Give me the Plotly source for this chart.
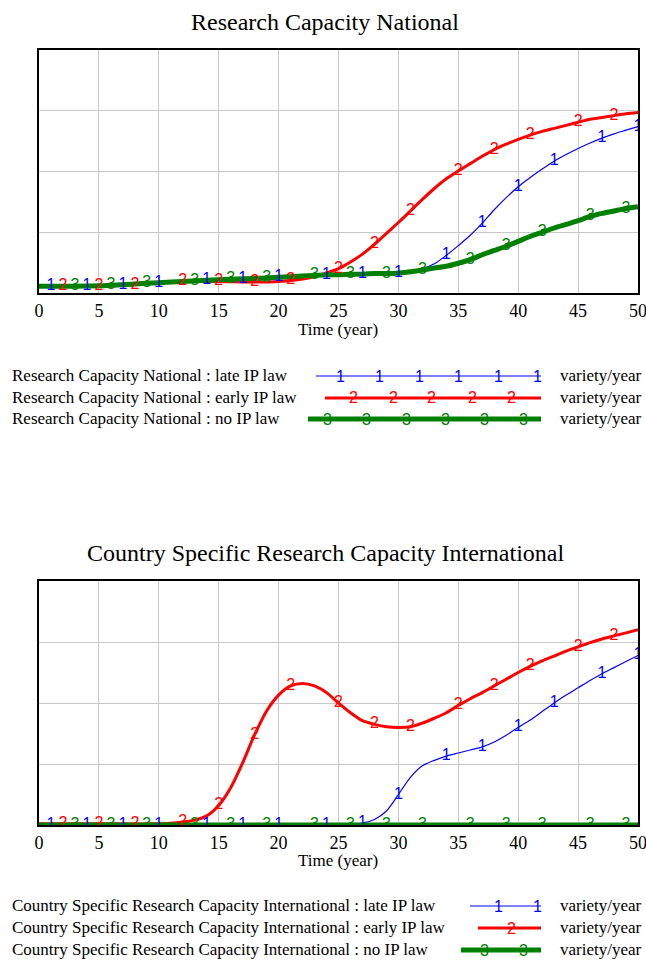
import numpy as np
import plotly.graph_objects as go

W, H = 646, 961

# ---------------- data: top chart (Research Capacity National) ----------------
TIME_TOP = [0, 5, 8, 10, 12, 15, 18, 20, 22, 23, 24, 25, 26, 27, 28, 29, 30, 31, 32, 33, 34,
            35, 36, 37, 38, 39, 40, 41, 42, 43, 44, 45, 46, 47, 48, 49, 50]
TOP_LATE = [0.11, 0.12, 0.15, 0.17, 0.19, 0.22, 0.24, 0.26, 0.28, 0.29, 0.30, 0.30, 0.31, 0.31,
            0.32, 0.32, 0.33, 0.36, 0.40, 0.48, 0.62, 0.78, 0.95, 1.15, 1.37, 1.57, 1.75, 1.90,
            2.04, 2.17, 2.28, 2.38, 2.47, 2.55, 2.62, 2.68, 2.74]
TOP_EARLY = [0.11, 0.11, 0.14, 0.17, 0.19, 0.19, 0.18, 0.19, 0.23, 0.27, 0.33, 0.40, 0.51,
             0.64, 0.80, 0.98, 1.16, 1.35, 1.54, 1.72, 1.88, 2.01, 2.13, 2.25, 2.36, 2.45,
             2.53, 2.60, 2.66, 2.71, 2.76, 2.81, 2.86, 2.89, 2.92, 2.95, 2.97]
TOP_NONE = [0.11, 0.12, 0.15, 0.17, 0.19, 0.22, 0.24, 0.26, 0.28, 0.29, 0.30, 0.30, 0.31, 0.31,
            0.32, 0.32, 0.33, 0.35, 0.38, 0.41, 0.44, 0.49, 0.55, 0.63, 0.70, 0.77, 0.85,
            0.93, 1.00, 1.07, 1.13, 1.19, 1.26, 1.31, 1.35, 1.39, 1.42]

# ---------------- data: bottom chart (Country Specific Research Capacity International) ----
TIME_BOT = [0, 5, 10, 11, 12, 13, 14, 15, 16, 17, 18, 19, 20, 21, 22, 23, 24, 25, 26, 27, 28,
            29, 30, 31, 32, 33, 34, 35, 36, 37, 38, 39, 40, 41, 42, 43, 44, 45, 46, 47, 48, 49, 50]
BOT_LATE = [0.0, 0.0, 0.0, 0.0, 0.0, 0.0, 0.0, 0.0, 0.0, 0.0, 0.0, 0.0, 0.0, 0.0, 0.0, 0.0,
            0.0, 0.0, 0.01, 0.03, 0.09, 0.23, 0.50, 0.78, 0.97, 1.06, 1.13, 1.18, 1.23, 1.28,
            1.36, 1.47, 1.60, 1.72, 1.86, 2.00, 2.13, 2.25, 2.37, 2.48, 2.58, 2.68, 2.78]
BOT_EARLY = [0.02, 0.02, 0.02, 0.03, 0.05, 0.08, 0.15, 0.32, 0.61, 1.02, 1.48, 1.87, 2.13,
             2.28, 2.32, 2.28, 2.17, 2.00, 1.84, 1.71, 1.65, 1.61, 1.60, 1.61, 1.67, 1.75,
             1.84, 1.96, 2.07, 2.17, 2.28, 2.39, 2.50, 2.60, 2.69, 2.77, 2.85, 2.92, 2.99,
             3.05, 3.10, 3.15, 3.20]
BOT_NONE = [0.0] * len(TIME_BOT)

# marker label times (Vensim-style numbered markers)
MARK_LATE = [1, 4, 7, 10, 14, 17, 20, 24, 27, 30, 34, 37, 40, 43, 47, 50]
MARK_EARLY = [2, 5, 8, 12, 15, 18, 21, 25, 28, 31, 35, 38, 41, 45, 48]
MARK_NONE = [3, 6, 9, 13, 16, 19, 23, 26, 29, 32, 36, 39, 42, 46, 49]

X_TICKS = [0, 5, 10, 15, 20, 25, 30, 35, 40, 45, 50]
TITLES = ["Research Capacity National", "Country Specific Research Capacity International"]
SCEN = ["late IP law", "early IP law", "no IP law"]
UNIT = "variety/year"

BLUE, RED, GREEN = "#0000ff", "#ff0000", "#008000"
SERIF = "Liberation Serif"
SANS = "Liberation Sans"


def px(x):
    return x / W


def py(y):
    return 1 - y / H


fig = go.Figure()

charts = [
    (TIME_TOP, [TOP_LATE, TOP_EARLY, TOP_NONE], "x", "y"),
    (TIME_BOT, [BOT_LATE, BOT_EARLY, BOT_NONE], "x2", "y2"),
]
styles = [(BLUE, 1.2, "1", MARK_LATE), (RED, 3, "2", MARK_EARLY), (GREEN, 5, "3", MARK_NONE)]

for t, series, xa, ya in charts:
    for vals, (col, wd, lab, marks) in zip(series, styles):
        fig.add_trace(go.Scatter(x=t, y=vals, mode="lines", xaxis=xa, yaxis=ya,
                                 line=dict(color=col, width=wd, shape="spline", smoothing=0.8),
                                 showlegend=False, hoverinfo="skip", cliponaxis=False))
    for vals, (col, wd, lab, marks) in zip(series, styles):
        my = np.interp(marks, t, vals)
        fig.add_trace(go.Scatter(x=marks, y=my, mode="text", text=[lab] * len(marks),
                                 textposition="middle center", xaxis=xa, yaxis=ya,
                                 textfont=dict(family=SANS, size=16, color=col),
                                 showlegend=False, hoverinfo="skip"))

# plot boxes (pixels)
boxes = [(50, 293), (581, 825)]
xdom = [px(39), px(638)]

axis_common = dict(showgrid=True, gridcolor="#c8c8c8", gridwidth=1, zeroline=False,
                   showline=True, linecolor="black", linewidth=2, mirror=True, ticks="",
                   automargin=False)
lay = {}
for i, (top, bot) in enumerate(boxes):
    sx = "" if i == 0 else "2"
    lay["xaxis" + sx] = dict(axis_common, domain=xdom, range=[0, 50], tickvals=X_TICKS,
                             ticktext=[str(v) for v in X_TICKS], ticklabeloverflow="allow",
                             tickfont=dict(family=SERIF, size=18, color="black"),
                             anchor="y" + sx)
    lay["yaxis" + sx] = dict(axis_common, domain=[py(bot), py(top)], range=[0, 4], dtick=1,
                             showticklabels=False, anchor="x" + sx)

annotations = []
shapes = []
# titles and axis titles
for i, (title, ty, axy) in enumerate(zip(TITLES, [22, 553], [330, 860])):
    annotations.append(dict(x=px(325), y=py(ty), xref="paper", yref="paper", text=title,
                            showarrow=False, font=dict(family=SERIF, size=24, color="black"),
                            xanchor="center", yanchor="middle"))
    annotations.append(dict(x=px(338), y=py(axy), xref="paper", yref="paper", text="Time (year)",
                            showarrow=False, font=dict(family=SERIF, size=17, color="black"),
                            xanchor="center", yanchor="middle"))

# legends
legend_rows = [
    # (y, line_x0, marker x positions) per scenario
    [(375, 316, [340, 379, 419, 458, 498, 537]),
     (397, 325, [353, 393, 432, 472, 511]),
     (418, 308, [327, 366, 406, 445, 484, 523])],
    [(905, 470, [498, 537]),
     (927, 478, [511]),
     (949, 461, [484, 523])],
]
for i, rows in enumerate(legend_rows):
    for (ly, lx0, mxs), scen, (col, wd, lab, _) in zip(rows, SCEN, styles):
        annotations.append(dict(x=px(10), y=py(ly), xref="paper", yref="paper",
                                text=f"{TITLES[i]} : {scen}", showarrow=False,
                                font=dict(family=SERIF, size=17, color="black"),
                                xanchor="left", yanchor="middle"))
        annotations.append(dict(x=px(558), y=py(ly), xref="paper", yref="paper",
                                text=UNIT, showarrow=False,
                                font=dict(family=SERIF, size=17, color="black"),
                                xanchor="left", yanchor="middle"))
        shapes.append(dict(type="line", xref="paper", yref="paper", x0=px(lx0), x1=px(541),
                           y0=py(ly + 1), y1=py(ly + 1), line=dict(color=col, width=wd)))
        for mx in mxs:
            annotations.append(dict(x=px(mx), y=py(ly + 1), xref="paper", yref="paper",
                                    text=lab, showarrow=False,
                                    font=dict(family=SANS, size=16, color=col),
                                    xanchor="center", yanchor="middle"))

fig.update_layout(width=W, height=H,
                  margin=dict(l=0, r=0, t=0, b=0, autoexpand=False),
                  paper_bgcolor="white", plot_bgcolor="white",
                  annotations=annotations, shapes=shapes, **lay)

fig.write_html("out.html")
